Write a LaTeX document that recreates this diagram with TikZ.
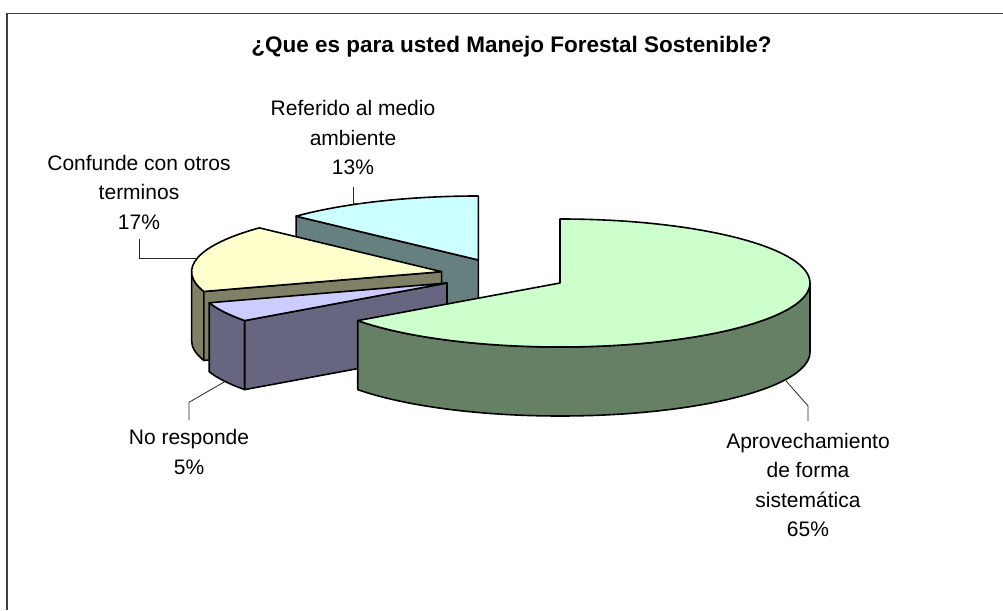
\documentclass[tikz,border=0pt]{standalone}
\usepackage{fontspec}
\setmainfont{Liberation Sans}
\usetikzlibrary{calc}

\definecolor{reftop}{HTML}{CCFFFF}
\definecolor{refside}{HTML}{668080}
\definecolor{conftop}{HTML}{FFFFCC}
\definecolor{confside}{HTML}{808066}
\definecolor{nrtop}{HTML}{CCCCFF}
\definecolor{nrside}{HTML}{666680}
\definecolor{aptop}{HTML}{CCFFCC}
\definecolor{apside}{HTML}{668066}

\begin{document}
\begin{tikzpicture}[x=1pt, y=1pt, x radius=250pt, y radius=64pt,
  lbl/.style={align=center, font=\fontsize{21}{29.5}\selectfont, inner sep=0pt},
  face/.style={draw=black, line width=1.6pt, line join=round},
  leader/.style={draw=black!85, line width=0.8pt}]
\useasboundingbox (0,0) rectangle (1003,610);
\draw[line width=1.8pt, color=black!75] (7,0) -- (7,596.5) -- (1003,596.5);

\node[font=\bfseries\fontsize{22.5}{27}\selectfont] (title) at (511.5,563) {¿Que es para usted Manejo Forestal Sostenible?};

\coordinate (R) at (478.3,350);
\coordinate (F) at (441.6,338.3);
\coordinate (N) at (447,327);
\coordinate (G) at (560,327);

\filldraw[face, fill=refside] (R) -- ++(136.8:250pt and 64pt) -- ++(0,-69) -- ([yshift=-69pt]R) -- cycle;
\filldraw[face, fill=reftop] (R) -- ++(90:250pt and 64pt) arc[start angle=90, end angle=136.8] -- cycle;

\filldraw[face, fill=confside] ($(F)+(180:250pt and 64pt)$) arc[start angle=180, end angle=198] -- ++(0,-69) arc[start angle=198, end angle=180] -- cycle;
\filldraw[face, fill=confside] (F) -- ++(198:250pt and 64pt) -- ++(0,-69) -- ([yshift=-69pt]F) -- cycle;
\filldraw[face, fill=conftop] (F) -- ++(136.8:250pt and 64pt) arc[start angle=136.8, end angle=198] -- cycle;

\filldraw[face, fill=nrside] ($(N)+(198:250pt and 64pt)$) arc[start angle=198, end angle=216] -- ++(0,-69) arc[start angle=216, end angle=198] -- cycle;
\filldraw[face, fill=nrside] (N) -- ++(216:250pt and 64pt) -- ++(0,-69) -- ([yshift=-69pt]N) -- cycle;
\filldraw[face, fill=nrtop] (N) -- ++(198:250pt and 64pt) arc[start angle=198, end angle=216] -- cycle;

\filldraw[face, fill=apside] ($(G)+(-144:250pt and 64pt)$) arc[start angle=-144, end angle=0] -- ++(0,-69) arc[start angle=0, end angle=-144] -- cycle;
\filldraw[face, fill=aptop] (G) -- ++(90:250pt and 64pt) arc[start angle=90, end angle=-144] -- cycle;

\coordinate (refpt) at ($(R)+(117.4:250pt and 64pt)$);
\coordinate (confpt) at ($(F)+(168:250pt and 64pt)$);
\coordinate (nrpt) at ($(N)+(207.4:250pt and 64pt)+(0,-69)$);
\coordinate (appt) at ($(G)+(-25.8:250pt and 64pt)+(0,-69)$);

\node[lbl] (reflbl) at (353,472) {Referido al medio\\ambiente\\13\%};
\node[lbl] (conflbl) at (139,418) {Confunde con otros\\terminos\\17\%};
\node[lbl] (nrlbl) at (189,158) {No responde\\5\%};
\node[lbl] (aplbl) at (808,125) {Aprovechamiento\\de forma\\sistemática\\65\%};

\draw[leader] ([yshift=-12pt]reflbl.south) |- (refpt);
\draw[leader] ([yshift=-10pt]conflbl.south) |- (confpt);
\draw[leader] ([yshift=9pt]nrlbl.north) -- ++(0,18) -- (nrpt);
\draw[leader] ([yshift=12pt]aplbl.north) -- ++(0,15) -- (appt);
\end{tikzpicture}
\end{document}
